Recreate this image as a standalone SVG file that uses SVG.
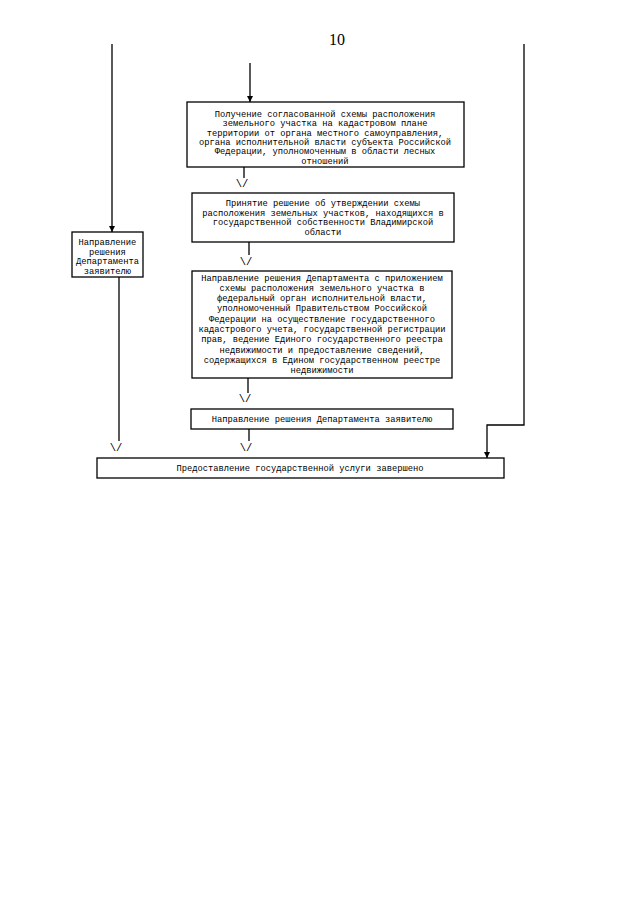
<svg xmlns="http://www.w3.org/2000/svg" width="640" height="905" viewBox="0 0 640 905">
<defs>
<marker id="ah" viewBox="0 0 10 10" refX="10" refY="5" markerWidth="6" markerHeight="6" markerUnits="userSpaceOnUse" orient="auto">
<path d="M0,0 L10,5 L0,10 z" fill="#000"/>
</marker>
</defs>
<style>
.box{fill:#fff;stroke:#000;stroke-width:1.3}
.t{font-family:"Liberation Mono","Courier New",monospace;font-size:8.75px;fill:#000;text-anchor:middle}
.v{font-family:"Liberation Mono","Courier New",monospace;font-size:10.5px;fill:#000;text-anchor:middle}
.ln{fill:none;stroke:#000;stroke-width:1.3}
.pg{font-family:"Liberation Serif","Times New Roman",serif;font-size:16px;fill:#000;text-anchor:middle}
</style>
<rect width="640" height="905" fill="#fff"/>
<text class="pg" x="337" y="45">10</text>

<g id="connectors">
<line class="ln" x1="112" y1="44" x2="112" y2="232" marker-end="url(#ah)"/>
<line class="ln" x1="250" y1="63" x2="250" y2="102" marker-end="url(#ah)"/>
<line class="ln" x1="244" y1="167" x2="244" y2="178"/>
<text class="v" x="242" y="187">\/</text>
<line class="ln" x1="249" y1="242" x2="249" y2="255"/>
<text class="v" x="246" y="265">\/</text>
<line class="ln" x1="248" y1="378" x2="248" y2="393"/>
<text class="v" x="245" y="402">\/</text>
<line class="ln" x1="249" y1="429" x2="249" y2="441"/>
<text class="v" x="246" y="451">\/</text>
<line class="ln" x1="119" y1="277" x2="119" y2="441"/>
<text class="v" x="116" y="451">\/</text>
<polyline class="ln" points="524,44 524,425 487,425 487,458" marker-end="url(#ah)"/>
</g>

<g id="node-a">
<rect class="box" x="187" y="102" width="277" height="65"/>
<text class="t" x="325" y="117">Получение согласованной схемы расположения</text>
<text class="t" x="325" y="126.3">земельного участка на кадастровом плане</text>
<text class="t" x="325" y="135.6">территории от органа местного самоуправления,</text>
<text class="t" x="325" y="144.9">органа исполнительной власти субъекта Российской</text>
<text class="t" x="325" y="154.2">Федерации, уполномоченным в области лесных</text>
<text class="t" x="325" y="163.5">отношений</text>
</g>

<g id="node-b">
<rect class="box" x="192" y="193" width="262" height="49"/>
<text class="t" x="323" y="206">Принятие решение об утверждении схемы</text>
<text class="t" x="323" y="215.5">расположения земельных участков, находящихся в</text>
<text class="t" x="323" y="225">государственной собственности Владимирской</text>
<text class="t" x="323" y="234.5">области</text>
</g>

<g id="node-c">
<rect class="box" x="192" y="271" width="260" height="107"/>
<text class="t" x="322" y="280.5">Направление решения Департамента с приложением</text>
<text class="t" x="322" y="290.8">схемы расположения земельного участка в</text>
<text class="t" x="322" y="301.1">федеральный орган исполнительной власти,</text>
<text class="t" x="322" y="311.4">уполномоченный Правительством Российской</text>
<text class="t" x="322" y="321.7">Федерации на осуществление государственного</text>
<text class="t" x="322" y="332">кадастрового учета, государственной регистрации</text>
<text class="t" x="322" y="342.3">прав, ведение Единого государственного реестра</text>
<text class="t" x="322" y="352.6">недвижимости и предоставление сведений,</text>
<text class="t" x="322" y="362.9">содержащихся в Едином государственном реестре</text>
<text class="t" x="322" y="373.2">недвижимости</text>
</g>

<g id="node-d">
<rect class="box" x="191" y="409" width="262" height="20"/>
<text class="t" x="322" y="421.5">Направление решения Департамента заявителю</text>
</g>

<g id="node-left">
<rect class="box" x="72" y="232" width="71" height="45"/>
<text class="t" x="107.5" y="245">Направление</text>
<text class="t" x="107.5" y="254.5">решения</text>
<text class="t" x="107.5" y="264">Департамента</text>
<text class="t" x="107.5" y="273.5">заявителю</text>
</g>

<g id="node-end">
<rect class="box" x="97" y="458" width="407" height="20"/>
<text class="t" x="300" y="471">Предоставление государственной услуги завершено</text>
</g>
</svg>
